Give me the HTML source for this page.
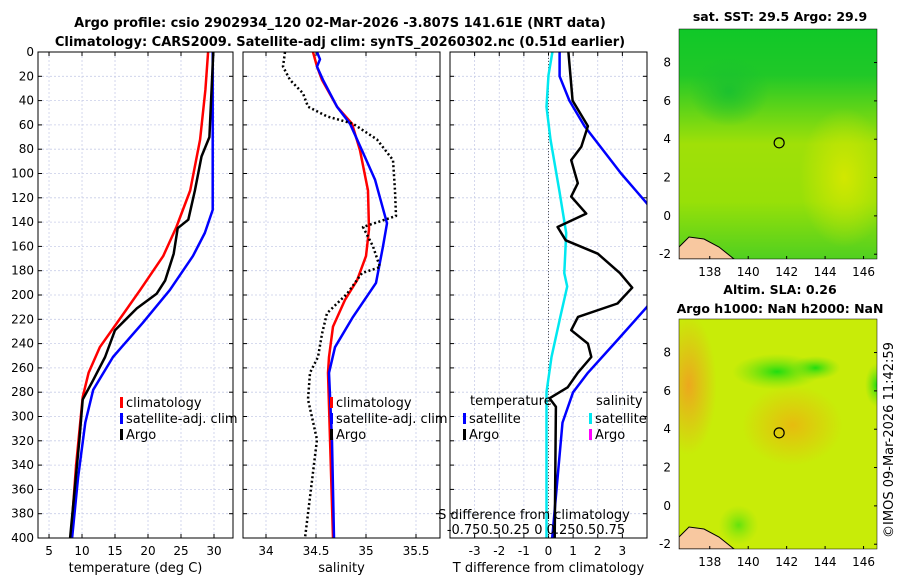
<!DOCTYPE html>
<html><head><meta charset="utf-8"><style>
body{margin:0;background:#fff;}
svg{font-family:"DejaVu Sans","Liberation Sans",sans-serif;}
</style></head><body>
<svg id="fig" width="900" height="580" viewBox="0 0 900 580">
<defs>
<clipPath id="c1"><rect x="38" y="52" width="195" height="486"/></clipPath>
<clipPath id="c2"><rect x="243" y="52" width="197" height="486"/></clipPath>
<clipPath id="c3"><rect x="450" y="52" width="197" height="486"/></clipPath>
<clipPath id="mc1"><rect x="679" y="29" width="198" height="230"/></clipPath>
<clipPath id="mc2"><rect x="679" y="319" width="198" height="230"/></clipPath>
<linearGradient id="g1" x1="0" y1="0" x2="0" y2="1">
<stop offset="0" stop-color="#10c828"/><stop offset="0.2" stop-color="#20c828"/><stop offset="0.35" stop-color="#60d418"/><stop offset="0.5" stop-color="#a0e008"/><stop offset="0.75" stop-color="#98e008"/><stop offset="1" stop-color="#50d020"/></linearGradient>
<radialGradient id="g1b" cx="0.5" cy="0.5" r="0.5"><stop offset="0" stop-color="#d8e800" stop-opacity="0.9"/><stop offset="1" stop-color="#d8e800" stop-opacity="0"/></radialGradient>
<radialGradient id="g1c" cx="0.5" cy="0.5" r="0.5"><stop offset="0" stop-color="#18c030" stop-opacity="0.9"/><stop offset="1" stop-color="#18c030" stop-opacity="0"/></radialGradient>
<radialGradient id="o1" cx="0.5" cy="0.5" r="0.5"><stop offset="0" stop-color="#f0a020" stop-opacity="0.9"/><stop offset="1" stop-color="#f0a020" stop-opacity="0"/></radialGradient>
<radialGradient id="o2" cx="0.5" cy="0.5" r="0.5"><stop offset="0" stop-color="#eeb010" stop-opacity="0.8"/><stop offset="1" stop-color="#eeb010" stop-opacity="0"/></radialGradient>
<radialGradient id="gr" cx="0.5" cy="0.5" r="0.5"><stop offset="0" stop-color="#20dd10"/><stop offset="1" stop-color="#70e010" stop-opacity="0"/></radialGradient>
</defs>
<text x="340" y="27" text-anchor="middle" font-size="13" font-weight="bold">Argo profile: csio 2902934_120 02-Mar-2026 -3.807S 141.61E (NRT data)</text>
<text x="340" y="46" text-anchor="middle" font-size="13" font-weight="bold">Climatology: CARS2009. Satellite-adj clim: synTS_20260302.nc (0.51d earlier)</text>
<g id="p1"></g>
<g id="p2"></g>
<g id="p3"></g>
<g id="m1"></g>
<g id="m2"></g>
<text transform="translate(893,440) rotate(-90)" text-anchor="middle" font-size="13">©IMOS 09-Mar-2026 11:42:59</text>
</svg>
<script>
const depthTicks=[0,20,40,60,80,100,120,140,160,180,200,220,240,260,280,300,320,340,360,380,400];
const tTicks=[5,10,15,20,25,30];
const sTicks=[34,34.5,35,35.5];
const dTicks=[-3,-2,-1,0,1,2,3];
// temperature profiles
const tDepthArgo=[0,70,86,114,138,145,166,188,199,211,229,251,270,286,319,400];
const tArgo=[29.9,29.3,28.1,27.1,26.1,24.5,23.9,22.6,21.3,18.3,15.0,13.5,11.7,10.1,9.6,8.2];
const tDepthClim=[0,31,72,114,144,168,196,223,243,264,284,340,400];
const tClim=[29.1,28.7,27.9,26.4,24.3,22.3,18.8,15.3,12.7,11.0,10.1,9.1,8.3];
const tDepthSat=[0,130,149,168,196,223,251,278,305,350,400];
const tSat=[29.8,29.8,28.6,26.8,23.3,19.2,14.7,11.7,10.5,9.4,8.5];
// salinity profiles
const sDepthArgo=[0,12,23,34,45,53,59,72,89,114,135,144,160,177,182,199,215,232,251,264,286,319,400];
const sArgo=[34.19,34.17,34.24,34.37,34.42,34.61,34.87,35.11,35.27,35.29,35.3,34.97,35.07,35.14,34.96,34.81,34.61,34.56,34.52,34.44,34.42,34.51,34.39];
const sDepthClim=[0,12,23,45,59,81,114,146,168,188,204,226,251,264,400];
const sClim=[34.47,34.51,34.56,34.71,34.86,34.94,35.02,35.03,35.0,34.91,34.79,34.67,34.63,34.62,34.67];
const sDepthSat=[0,6,12,23,45,59,81,105,141,160,190,218,243,264,320,400];
const sSat=[34.51,34.54,34.51,34.57,34.71,34.84,34.96,35.09,35.21,35.17,35.1,34.87,34.69,34.63,34.66,34.68];
// differences
const dDepthArgoT=[0,40,61,78,89,108,119,133,144,155,166,182,194,207,218,229,240,251,264,276,285,292,400];
const dArgoT=[0.81,0.98,1.6,1.33,0.92,1.19,0.92,1.53,0.37,0.7,2.0,2.9,3.4,2.8,1.2,0.92,1.6,1.74,1.19,0.78,0.04,0.3,0.25];
const dDepthSatT=[0,20,40,61,100,124,150,180,210,237,264,280,305,400];
const dSatT=[0.45,0.45,0.85,1.46,2.95,3.97,5.0,5.0,3.99,2.8,1.6,1.0,0.57,0.15];
const dDepthSatS=[0,19,45,72,114,149,182,193,218,251,280,400];
const dSatS=[0.04,0.0,-0.02,0.02,0.11,0.18,0.16,0.19,0.12,0.03,-0.02,-0.02];

const NS="http://www.w3.org/2000/svg";
function mk(parent,tag,attrs,txt){const e=document.createElementNS(NS,tag);for(const k in attrs)e.setAttribute(k,attrs[k]);if(txt!==undefined)e.textContent=txt;parent.appendChild(e);return e;}
const Y0=52,Y1=538;
const yD=d=>Y0+(Y1-Y0)*d/400;
function panel(g,x0,x1,vmin,vmax,ticks,labels,xlabel,showY){
  const xs=v=>x0+(x1-x0)*(v-vmin)/(vmax-vmin);
  mk(g,'rect',{x:x0,y:Y0,width:x1-x0,height:Y1-Y0,fill:'#fff'});
  depthTicks.forEach(d=>{mk(g,'line',{x1:x0,x2:x1,y1:yD(d),y2:yD(d),stroke:'#c8cde8','stroke-width':0.8,'stroke-dasharray':'2,2'});
    mk(g,'line',{x1:x0,x2:x0+4,y1:yD(d),y2:yD(d),stroke:'#000'});mk(g,'line',{x1:x1,x2:x1-4,y1:yD(d),y2:yD(d),stroke:'#000'});
    if(showY){const t=mk(g,'text',{x:x0-4,y:yD(d)+4,'text-anchor':'end','font-size':12},String(d));}});
  ticks.forEach((v,i)=>{mk(g,'line',{x1:xs(v),x2:xs(v),y1:Y0,y2:Y1,stroke:'#c8cde8','stroke-width':0.8,'stroke-dasharray':'2,2'});
    mk(g,'line',{x1:xs(v),x2:xs(v),y1:Y1,y2:Y1-4,stroke:'#000'});mk(g,'line',{x1:xs(v),x2:xs(v),y1:Y0,y2:Y0+4,stroke:'#000'});
    const t=mk(g,'text',{x:xs(v),y:555,'text-anchor':'middle','font-size':12},labels[i]);});
  const xl=mk(g,'text',{x:(x0+x1)/2,y:572,'text-anchor':'middle','font-size':13},xlabel);
  
  return xs;
}
function line(g,xs,ds,vs,color,w,clip,dash,name){
  const p=mk(g,'polyline',{points:ds.map((d,i)=>xs(vs[i]).toFixed(1)+','+yD(d).toFixed(1)).join(' '),fill:'none',stroke:color,'stroke-width':w,'clip-path':'url(#'+clip+')','stroke-linejoin':'round'});
  if(dash)p.setAttribute('stroke-dasharray',dash);
  
}
function frame(g,x0,x1){mk(g,'rect',{x:x0,y:Y0,width:x1-x0,height:Y1-Y0,fill:'none',stroke:'#000','stroke-width':1});}
function legItem(g,x,y,color,label,name){mk(g,'rect',{x:x,y:y-9,width:3,height:11,fill:color});
  const t=mk(g,'text',{x:x+6,y:y+1,'font-size':13},label);}

const g1=document.getElementById('p1');
const xs1=panel(g1,38,233,3.33,32.88,tTicks,tTicks.map(String),'temperature (deg C)',true);
line(g1,xs1,tDepthClim,tClim,'#f00',2.5,'c1',null,'climatology-temp-line');
line(g1,xs1,tDepthSat,tSat,'#00f',2.5,'c1',null,'satellite-temp-line');
line(g1,xs1,tDepthArgo,tArgo,'#000',2.5,'c1',null,'argo-temp-line');
frame(g1,38,233);
legItem(g1,120,406,'#f00','climatology','legend-climatology');
legItem(g1,120,422,'#00f','satellite-adj. clim','legend-satellite');
legItem(g1,120,438,'#000','Argo','legend-argo');

const g2=document.getElementById('p2');
const xs2=panel(g2,243,440,33.77,35.74,sTicks,sTicks.map(String),'salinity',false);
line(g2,xs2,sDepthClim,sClim,'#f00',2.5,'c2',null,'climatology-sal-line');
line(g2,xs2,sDepthSat,sSat,'#00f',2.5,'c2',null,'satellite-sal-line');
line(g2,xs2,sDepthArgo,sArgo,'#000',2.5,'c2','2,2.5','argo-sal-line');
frame(g2,243,440);
legItem(g2,330,406,'#f00','climatology','legend-climatology-2');
legItem(g2,330,422,'#00f','satellite-adj. clim','legend-satellite-2');
legItem(g2,330,438,'#000','Argo','legend-argo-2');

const g3=document.getElementById('p3');
const xs3=panel(g3,450,647,-4,4,dTicks,dTicks.map(String),'T difference from climatology',false);
mk(g3,'line',{x1:xs3(0),x2:xs3(0),y1:Y0,y2:Y1,stroke:'#555','stroke-dasharray':'1,2'});
const xsS=v=>xs3(v*4);
line(g3,xsS,dDepthSatS,dSatS,'#00e8f0',2.5,'c3',null,'satellite-sal-diff-line');
line(g3,xs3,dDepthSatT,dSatT,'#00f',2.5,'c3',null,'satellite-temp-diff-line');
line(g3,xs3,dDepthArgoT,dArgoT,'#000',2.5,'c3',null,'argo-temp-diff-line');
frame(g3,450,647);
[['temperature',470,405,'legend-temp-header'],['salinity',596,405,'legend-sal-header']].forEach(a=>{const t=mk(g3,'text',{x:a[1],y:a[2],'font-size':13},a[0]);});
legItem(g3,463,422,'#00f','satellite','legend-temp-satellite');
legItem(g3,463,438,'#000','Argo','legend-temp-argo');
legItem(g3,589,422,'#00e8f0','satellite','legend-sal-satellite');
legItem(g3,589,438,'#f0f','Argo','legend-sal-argo');
const st=mk(g3,'text',{x:534,y:519,'text-anchor':'middle','font-size':13},'S difference from climatology');

const sl=mk(g3,'text',{x:536,y:534,'text-anchor':'middle','font-size':13},'-0.750.50.25 0 0.250.50.75');


// maps
const lonTicks=[138,140,142,144,146];
const latTicks=[-2,0,2,4,6,8];
function map(g,top,bot,kind,title,title2){
  const x0=679,x1=877,lonMin=136.4,lonMax=146.7,latMin=-2.25,latMax=9.75;
  const xl=v=>x0+(x1-x0)*(v-lonMin)/(lonMax-lonMin), yl=v=>bot-(bot-top)*(v-latMin)/(latMax-latMin);
  const c=mk(g,'g',{'clip-path':kind===1?'url(#mc1)':'url(#mc2)'});
  if(kind===1){
    mk(c,'rect',{x:x0,y:top,width:x1-x0,height:bot-top,fill:'url(#g1)'});
    mk(c,'ellipse',{cx:xl(145),cy:yl(2),rx:45,ry:70,fill:'url(#g1b)'});
    mk(c,'ellipse',{cx:xl(139),cy:yl(6.5),rx:40,ry:35,fill:'url(#g1c)'});
  } else {
    mk(c,'rect',{x:x0,y:top,width:x1-x0,height:bot-top,fill:'#c8ec08'});
    mk(c,'ellipse',{cx:xl(136.9),cy:yl(6.3),rx:28,ry:70,fill:'url(#o1)'});
    mk(c,'ellipse',{cx:xl(142.3),cy:yl(4.2),rx:50,ry:40,fill:'url(#o2)'});
    mk(c,'ellipse',{cx:xl(141.5),cy:yl(7),rx:45,ry:18,fill:'url(#gr)'});
    mk(c,'ellipse',{cx:xl(143.5),cy:yl(7.2),rx:25,ry:12,fill:'url(#gr)'});
    mk(c,'ellipse',{cx:xl(146.7),cy:yl(6.3),rx:12,ry:22,fill:'url(#gr)'});
    mk(c,'ellipse',{cx:xl(139.5),cy:yl(-1),rx:20,ry:20,fill:'url(#gr)',opacity:0.6});
  }
  mk(c,'path',{d:`M${x0},${bot} L${x0},${bot-12} L${x0+10},${bot-22} L${x0+25},${bot-20} L${x0+40},${bot-12} L${x0+55},${bot} Z`,fill:'#f8c8a0',stroke:'#000','stroke-width':1});
  mk(g,'circle',{cx:xl(141.61),cy:yl(3.81),r:5,fill:'none',stroke:'#000','stroke-width':1.2});
  mk(g,'rect',{x:x0,y:top,width:x1-x0,height:bot-top,fill:'none',stroke:'#000','stroke-width':0.5});
  lonTicks.forEach(v=>{mk(g,'line',{x1:xl(v),x2:xl(v),y1:bot,y2:bot-3,stroke:'#000'});
    const t=mk(g,'text',{x:xl(v),y:bot+17,'text-anchor':'middle','font-size':12},String(v));});
  latTicks.forEach(v=>{mk(g,'line',{x1:x1,x2:x1-3,y1:yl(v),y2:yl(v),stroke:'#000'});
    const t=mk(g,'text',{x:x0-8,y:yl(v)+4,'text-anchor':'end','font-size':12},String(v));});
  const t=mk(g,'text',{x:780,y:kind===1?top-8:top-25,'text-anchor':'middle','font-size':12.5,'font-weight':'bold'},title);
  
  if(title2){const t2=mk(g,'text',{x:780,y:top-6,'text-anchor':'middle','font-size':12.5,'font-weight':'bold'},title2);
    }
}
map(document.getElementById('m1'),29,259,1,'sat. SST: 29.5 Argo: 29.9');
map(document.getElementById('m2'),319,549,2,'Altim. SLA: 0.26','Argo h1000: NaN h2000: NaN');
</script>
</body></html>
